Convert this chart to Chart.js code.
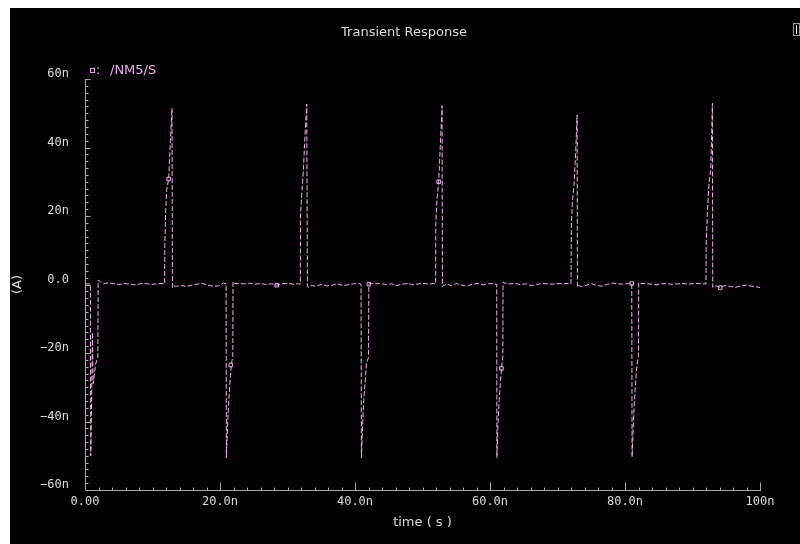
<!DOCTYPE html>
<html>
<head>
<meta charset="utf-8">
<script src="https://cdn.jsdelivr.net/npm/chart.js@4.4.0/dist/chart.umd.min.js"></script>
<style>
	html, body { margin: 0; padding: 0; background: #fff; width: 800px; height: 544px; overflow: hidden; }
	#panel { position: absolute; left: 10px; top: 8px; width: 790px; height: 536px; background: #000; }
	#panel canvas { position: absolute; left: 0; top: 0; }
	#title { position: absolute; left: 0; width: 788px; top: 16px; text-align: center; color: #dcdcdc; font: 13px "DejaVu Sans"; line-height: 16px; }
	.leg { position: absolute; color: #f0aef0; font: 13px "DejaVu Sans"; line-height: 16px; white-space: nowrap; }
	#leg-box { position: absolute; left: 80px; top: 60px; width: 3px; height: 3px; border: 1px solid #f0aef0; }
	#icon { position: absolute; left: 783px; top: 15px; width: 5px; height: 11px; border: 1px solid #9a9a9a; }
	#icon div { position: absolute; left: 2px; top: 1px; width: 1px; height: 9px; background: #fff; }
</style>
</head>
<body>
<div id="panel">
	<canvas id="tran-chart" width="790" height="536"></canvas>
	<div id="title">Transient Response</div>
	<div id="leg-box"></div>
	<span class="leg" style="left:86px; top:54px;">:</span>
	<span class="leg" style="left:100px; top:54px;">/NM5/S</span>
	<div id="icon"><div></div></div>
</div>
<script>
// time in ns, current in nA
const timeNs = [
	0, 0.4, 0.8, 0.85, 0.95, 1.1, 1.2, 1.4, 1.6, 1.9, 1.95, 2.3, 2.8, 3.5, 4.3, 5.0, 5.8, 6.6, 7.4, 8.2, 9.0, 9.8, 10.6, 11.4, 11.8,
	11.82, 11.96, 12.1, 12.4, 12.65, 12.89, 12.95, 13.1, 13.6, 14.3, 15.0, 15.8, 16.6, 17.4, 18.2, 19.0, 19.8, 20.5, 20.9,
	20.95, 21.15, 21.3, 21.6, 21.75, 21.9, 21.93, 22.1, 22.8, 23.6, 24.4, 25.2, 26.0, 26.8, 27.6, 28.4, 29.2, 30.0, 30.8, 31.5, 31.9,
	31.92, 32.1, 32.35, 32.6, 32.85, 32.95, 33.1, 33.5, 34.2, 35.0, 35.8, 36.6, 37.4, 38.2, 39.0, 39.8, 40.5, 40.9,
	40.95, 41.15, 41.3, 41.6, 41.7, 42.0, 42.05, 42.3, 43.0, 43.8, 44.6, 45.4, 46.2, 47.0, 47.8, 48.6, 49.4, 50.2, 51.0, 51.6, 51.95,
	51.97, 52.15, 52.4, 52.65, 52.9, 52.95, 53.1, 53.6, 54.3, 55.0, 55.8, 56.6, 57.4, 58.2, 59.0, 59.8, 60.5, 61.0,
	61.02, 61.2, 61.35, 61.7, 61.85, 61.9, 61.93, 62.2, 62.9, 63.7, 64.5, 65.3, 66.1, 66.9, 67.7, 68.5, 69.3, 70.1, 70.9, 71.6, 72.0,
	72.05, 72.2, 72.45, 72.7, 72.9, 72.95, 73.1, 73.6, 74.3, 75.0, 75.8, 76.6, 77.4, 78.2, 79.0, 79.8, 80.5, 81.0,
	81.05, 81.25, 81.4, 81.7, 81.85, 82.0, 82.03, 82.3, 83.0, 83.8, 84.6, 85.4, 86.2, 87.0, 87.8, 88.6, 89.4, 90.2, 91.0, 91.7, 92.0,
	92.02, 92.2, 92.45, 92.7, 92.88, 92.95, 93.0, 93.2, 93.7, 94.1, 94.8, 95.6, 96.4, 97.2, 98.0, 98.8, 99.5, 100
]
const currentNa = [
	0.1, 0.2, 0.1, -50.0, -38, -14, -29, -26, -23, -21.5, 1.3, 0.8, 0.3, 0.5, 0.2, 0.0, 0.3, 0.1, -0.1, 0.2, 0.3, 0.0, 0.2, 0.3, 0.2,
	11, 21.5, 27.5, 30.8, 42, 51.5, -0.9, -0.4, -0.5, -0.3, -0.6, -0.2, 0.1, 0.3, -0.2, -0.5, -0.4, 0.4, 0.2,
	-50.6, -40, -34, -25, -22.5, -21, 0.8, 0.3, 0.3, 0.2, 0.4, 0.1, 0.3, 0.0, 0.2, -0.2, 0.3, 0.3, 0.1, 0.2, 0.1,
	20, 26, 33, 44, 52.7, -0.6, -0.8, -0.3, -0.5, 0.0, -0.4, -0.2, 0.2, -0.3, -0.1, 0.2, 0.3, 0.1,
	-50.6, -40, -33.7, -26, -23, -21.3, 0.1, 0.4, 0.2, 0.3, 0.0, 0.2, -0.3, 0.1, 0.3, -0.1, 0.2, 0.3, 0.1, 0.3, 0.2,
	18, 25, 30, 41, 52.2, -0.6, -0.3, 0.1, -0.4, 0.3, -0.2, -0.5, 0.1, 0.3, -0.1, 0.2, 0.3, 0.0,
	-50.6, -40, -34, -24.5, -22, -21, 0.7, 0.4, 0.2, 0.3, 0.0, 0.2, -0.3, 0.0, 0.3, 0.2, 0.1, 0.3, 0.2, 0.3, 0.2,
	17, 24, 29, 39, 49.5, -0.8, -0.3, -0.6, -0.2, 0.3, -0.3, -0.5, 0.1, 0.4, 0.2, 0.1, 0.3, 0.3,
	-50.4, -40, -34, -25, -22.5, -21, 0.6, 0.3, 0.3, 0.1, -0.1, 0.2, 0.3, 0.0, 0.2, 0.3, 0.1, 0.3, 0.3, 0.2, 0.2,
	11, 20.8, 29.5, 33.4, 47, 52.9, -0.8, -0.3, -0.5, -0.9, -0.3, -0.6, -0.8, -0.4, -0.2, -0.5, -0.7, -0.9
]
// square symbols drawn along the trace
const markerTimeNs = [12.4, 21.6, 28.4, 42.05, 52.4, 61.7, 81.0, 94.1]
const markerCurrentNa = [30.8, -23.5, -0.2, 0.1, 30, -24.5, 0.3, -0.9]

const xTickValues = [0, 20, 40, 60, 80, 100]
const xTickLabels = ["0.00", "20.0n", "40.0n", "60.0n", "80.0n", "100n"]
const yTickValues = [-60, -40, -20, 0, 20, 40, 60]
const yTickLabels = ["\u221260n", "\u221240n", "\u221220n", "0.0", "20n", "40n", "60n"]

const traceColor = "#f2aef2"
const axisColor = "#a8a8a8"
const textColor = "#dcdcdc"

const points = timeNs.map((t, i) => ({x: t, y: currentNa[i]}))
const markers = markerTimeNs.map((t, i) => ({x: t, y: markerCurrentNa[i]}))

// inward major/minor tick marks like the simulator plot
const tickMarks = {
	id: "tickMarks",
	afterDraw(chart){
		const {ctx, scales: {x, y}} = chart
		ctx.save()
		ctx.strokeStyle = axisColor
		ctx.lineWidth = 1
		ctx.beginPath()
		const yb = Math.round(y.getPixelForValue(-60)) + 0.5
		for(let v = 0; v <= 100; v += 2){
			const px = Math.round(x.getPixelForValue(v)) + 0.5
			const len = v % 20 == 0 ? 8 : 3
			ctx.moveTo(px, yb)
			ctx.lineTo(px, yb - len)
		}
		const xl = Math.round(x.getPixelForValue(0)) + 0.5
		for(let v = -60; v <= 60; v += 2){
			const py = Math.round(y.getPixelForValue(v)) + 0.5
			const len = v % 20 == 0 ? 5 : 3
			ctx.moveTo(xl, py)
			ctx.lineTo(xl + len, py)
		}
		ctx.stroke()
		ctx.restore()
	}
}

const tranChart = new Chart("tran-chart", {
	type: "line",
	data: {
		datasets: [{
			label: "/NM5/S",
			data: points,
			borderColor: traceColor,
			borderWidth: 1,
			borderDash: [5, 2],
			pointRadius: 0,
			tension: 0,
			fill: false
		}, {
			type: "scatter",
			label: "markers",
			data: markers,
			showLine: false,
			pointStyle: "rect",
			pointRadius: 2.5,
			borderColor: traceColor,
			backgroundColor: "rgba(0,0,0,0)",
			borderWidth: 1
		}]
	},
	options: {
		responsive: false,
		animation: false,
		events: [],
		layout: {
			padding: {left: 0, right: 40, top: 71, bottom: 0}
		},
		plugins: {
			legend: {display: false},
			tooltip: {enabled: false},
			title: {display: false}
		},
		scales: {
			x: {
				type: "linear",
				min: 0,
				max: 100,
				afterBuildTicks: (scale) => { scale.ticks = xTickValues.map(v => ({value: v})) },
				afterFit: (scale) => { scale.height = 54 },
				grid: {display: false, drawTicks: false},
				border: {display: true, color: axisColor, width: 1},
				ticks: {
					color: textColor,
					font: {family: "DejaVu Sans Mono", size: 12},
					padding: 5,
					maxRotation: 0,
					autoSkip: false,
					callback: (v) => xTickLabels[xTickValues.indexOf(v)]
				},
				title: {
					display: true,
					text: "time ( s )",
					color: textColor,
					font: {family: "DejaVu Sans", size: 13},
					padding: {top: 0, bottom: 14}
				}
			},
			y: {
				type: "linear",
				min: -60,
				max: 60,
				afterBuildTicks: (scale) => { scale.ticks = yTickValues.map(v => ({value: v})) },
				afterFit: (scale) => { scale.width = 75 },
				grid: {display: false, drawTicks: false},
				border: {display: true, color: axisColor, width: 1},
				ticks: {
					color: textColor,
					font: {family: "DejaVu Sans Mono", size: 12},
					padding: 16,
					labelOffset: -5,
					autoSkip: false,
					callback: (v) => yTickLabels[yTickValues.indexOf(v)]
				},
				title: {
					display: true,
					text: "(A)",
					color: textColor,
					font: {family: "DejaVu Sans", size: 13},
					padding: {top: 0, bottom: 0}
				}
			}
		}
	},
	plugins: [tickMarks]
})
</script>
</body>
</html>
